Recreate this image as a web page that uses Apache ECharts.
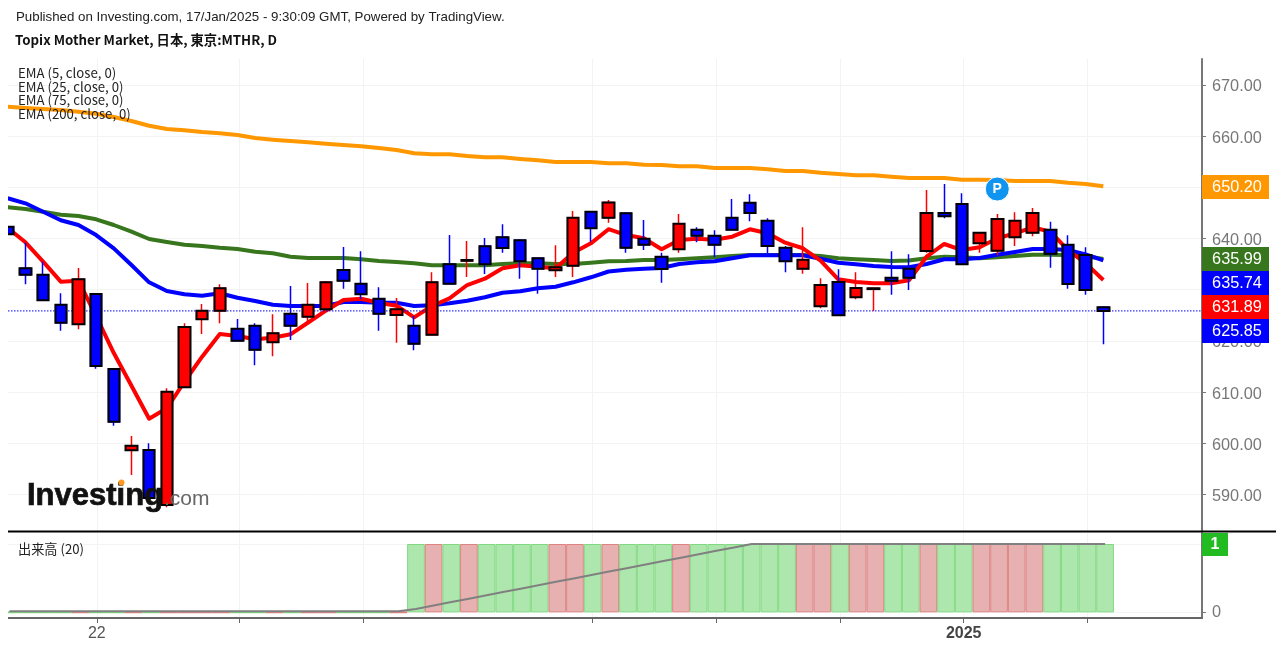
<!DOCTYPE html>
<html>
<head>
<meta charset="utf-8">
<style>html,body{margin:0;padding:0;background:#fff}#c{width:1276px;height:651px}</style>
<script src="https://cdn.jsdelivr.net/npm/echarts@6/dist/echarts.min.js"></script>
</head>
<body>
<div id="c"></div>
<script>
const opens = [642.31,634.18,632.93,627.06,623.23,629.15,614.49,598.61,598.67,587.92,610.92,624.21,625.89,622.37,622.96,619.71,625.30,624.72,626.16,633.84,631.17,628.23,625.05,622.96,621.20,634.96,635.64,638.48,640.23,639.65,636.13,633.79,634.69,645.24,644.07,644.92,639.96,636.44,637.89,641.72,640.55,644.07,647.00,643.48,638.20,634.10,626.75,631.50,628.51,630.11,632.34,634.10,637.56,644.98,646.74,639.06,637.62,640.23,641.13,641.72,638.79,636.77,626.55];
const closes = [640.82,632.93,627.92,623.54,632.03,615.08,604.20,599.51,589.29,610.06,622.70,625.89,630.27,620.03,618.27,621.47,622.96,627.06,631.44,631.75,629.09,625.30,626.16,619.44,631.44,631.17,635.80,634.96,638.14,635.54,634.10,634.37,644.07,641.99,647.03,638.20,638.79,634.04,642.89,640.55,638.79,641.72,644.98,638.53,635.54,635.86,630.91,624.99,630.33,630.27,631.75,632.34,644.98,644.34,634.96,641.13,643.81,643.48,644.98,637.03,631.11,629.94,625.83];
const lows = [640.82,631.05,627.92,621.98,622.25,614.55,603.42,593.78,588.90,587.50,610.90,621.34,623.43,619.91,615.22,616.98,620.16,623.43,626.16,630.19,628.12,621.98,619.64,618.15,621.20,631.17,632.48,633.06,637.23,632.14,629.21,632.48,632.48,639.37,643.09,637.23,637.75,631.36,637.23,639.26,636.33,641.72,643.36,637.11,633.39,633.12,626.36,624.99,628.12,625.83,629.02,629.94,637.23,643.95,634.96,637.23,636.72,638.53,640.43,634.29,630.19,629.02,619.32];
const highs = [642.31,639.18,635.47,629.29,634.23,629.29,614.63,601.40,599.98,610.72,623.43,627.20,631.05,624.27,623.43,625.18,630.72,631.30,631.69,638.34,637.50,630.46,628.37,624.85,633.39,640.68,639.51,640.10,642.77,639.84,636.29,638.67,645.37,645.37,647.52,645.12,643.62,637.23,644.79,642.19,641.60,647.72,648.64,643.95,638.53,642.19,632.22,633.98,633.39,630.40,637.50,636.91,649.48,650.65,648.83,641.13,644.79,645.12,645.96,643.28,640.62,638.28,626.55];
const ema5 = [642.05,639.26,635.47,631.56,631.75,624.85,617.62,611.23,604.79,606.82,612.01,616.90,621.34,620.95,620.30,620.61,621.28,623.58,625.89,627.98,628.23,627.45,626.87,624.60,626.81,628.31,630.91,632.14,634.18,634.76,634.49,634.18,637.23,639.06,641.82,640.68,640.04,637.89,639.71,639.96,639.77,640.35,641.80,641.02,639.18,638.09,635.66,632.03,631.50,631.25,631.25,631.83,636.44,638.93,637.75,638.28,640.04,641.02,642.19,641.33,637.75,635.15,631.89];
const ema25 = [647.86,646.88,645.24,643.56,642.64,640.68,638.08,634.82,631.44,629.74,629.10,628.82,629.29,628.43,627.79,627.06,626.81,626.81,626.81,627.59,627.59,627.45,627.45,626.81,626.95,627.34,627.85,628.51,629.41,629.68,630.27,630.58,631.44,632.42,633.55,633.90,634.10,634.23,635.02,635.35,635.54,636.13,636.72,636.72,636.72,636.72,636.05,635.27,634.96,634.63,634.43,634.39,635.02,635.94,635.94,636.19,636.83,637.36,637.95,637.95,637.75,636.91,635.74];
const ema75 = [646.10,645.77,645.24,644.65,644.40,643.75,642.64,641.33,639.90,639.32,638.79,638.53,638.20,637.95,637.42,637.11,636.44,636.19,636.19,636.19,635.93,635.60,635.41,635.15,634.76,634.76,634.76,634.76,635.02,635.15,635.15,635.02,635.02,635.27,635.56,635.60,635.80,635.80,635.93,636.13,636.33,636.58,636.77,636.77,636.77,636.77,636.58,636.13,635.93,635.80,635.60,635.70,636.13,636.44,636.33,636.13,636.33,636.58,636.83,636.83,636.77,636.58,635.99];
const ema200 = [665.76,665.50,665.31,665.11,664.78,664.39,663.74,662.96,662.04,661.40,661.15,660.81,660.56,660.23,659.64,659.31,659.05,658.80,658.53,658.27,658.02,657.69,657.30,656.65,656.45,656.45,656.12,655.87,655.87,655.54,655.28,654.95,654.95,654.95,654.70,654.70,654.42,654.36,654.11,654.11,653.78,653.78,653.78,653.52,653.19,653.19,652.86,652.61,652.35,652.35,652.08,651.82,651.82,651.82,651.49,651.49,651.43,651.24,651.24,651.24,650.90,650.65,650.20];
const volumes = [0,0,0,0,0,0,0,0,0,0,0,0,0,0,0,0,0,0,0,0,0,0,0,1,1,1,1,1,1,1,1,1,1,1,1,1,1,1,1,1,1,1,1,1,1,1,1,1,1,1,1,1,1,1,1,1,1,1,1,1,1,1,1];
const volumeMA = [0.015,0.015,0.015,0.015,0.015,0.015,0.015,0.015,0.015,0.015,0.015,0.015,0.015,0.015,0.015,0.015,0.015,0.015,0.015,0.015,0.015,0.015,0.015,0.05,0.1,0.15,0.2,0.25,0.3,0.35,0.4,0.45,0.5,0.55,0.6,0.65,0.7,0.75,0.8,0.85,0.9,0.95,1,1,1,1,1,1,1,1,1,1,1,1,1,1,1,1,1,1,1,1,1];
const priceTicks = [590,600,610,620,630,640,650,660,670];
const priceLabels = [590,600,610,620,640,650,660,670];
const dateTicks = [4.94,13,20,33,40,47,54,61];
const dateLabels = {5:'22',54:'{b|2025}'};
const lastPrice = 625.85;
const pivotIndex = 56, pivotPrice = 649.67;
const emaNames = ['EMA (5, close, 0)','EMA (25, close, 0)','EMA (75, close, 0)','EMA (200, close, 0)'];
const tagTexts = ['650.20','635.99','635.74','631.89','625.85'];
const tagColors = ['#ff9800','#38761d','#0000ff','#ff0000','#0000ff'];

const BLUE='#0000ff', RED='#ff0000', SANS='"Liberation Sans",Arial,sans-serif', CJK='"Noto Sans CJK JP","Noto Sans",sans-serif';
const xr = {min:0.013,max:67.585}, lag=0.1;
const pts = a => a.map((v,i)=>[i,v]);
const lineS = (name,data,color,z) => ({name,type:'line',data:pts(data),xAxisIndex:0,yAxisIndex:0,showSymbol:false,symbol:'none',
  lineStyle:{color,width:4,join:'round'},z,silent:true});
const wicks = opens.map((o,i)=>[i,o,closes[i],lows[i],highs[i]]);
const bodies = opens.map((o,i)=>[i,o,closes[i],Math.min(o,closes[i]),Math.max(o,closes[i])]);
const txt = (text,x,y,font,fill,extra) => ({type:'text',x,y,z:100,silent:true,style:Object.assign({text,font,fill,verticalAlign:'middle',align:'left'},extra||{})});

const graphic = [
  {type:'rect',z:40,silent:true,shape:{x:0,y:59,width:8,height:560},style:{fill:'#fff'}},
  {type:'line',z:50,silent:true,shape:{x1:8,y1:531.5,x2:1276,y2:531.5},style:{stroke:'#000',lineWidth:2}},
  txt('Published on Investing.com, 17/Jan/2025 - 9:30:09 GMT, Powered by TradingView.',16,17.5,'13.3px '+SANS,'#222'),
  txt('Topix Mother Market, 日本, 東京:MTHR, D',15,40,'bold 13.3px '+CJK,'#111'),
  txt('出来高 (20)',18,549,'13.2px '+CJK,'#222'),
  txt('Investing',27,496,'bold 31px '+SANS,'#111',{stroke:'#111',lineWidth:0.7}),
  txt('.com',164,499,'21px '+SANS,'#666'),
  {type:'circle',z:101,silent:true,shape:{cx:121.5,cy:482.5,r:3},style:{fill:'#ff9a1f'}},
  {type:'rect',z:60,silent:true,shape:{x:1202,y:533,width:26,height:23},style:{fill:'#22bb22'}},
  txt('1',1215,544.5,'bold 16px '+SANS,'#fff',{align:'center'})
];
emaNames.forEach((n,i)=>graphic.push(txt(n,18,[73,86.5,100,114][i],'13.2px '+CJK,'#222')));
tagTexts.forEach((t,i)=>{
  const top=[175,247,271,295,319][i];
  graphic.push({type:'rect',z:60,silent:true,shape:{x:1202,y:top,width:67,height:24},style:{fill:tagColors[i]}});
  graphic.push(txt(t,1237,top+13,'16.3px '+SANS,'#fff',{align:'center'}));
});

const option = {
  animation:false,
  backgroundColor:'#fff',
  grid:[
    {left:8,width:1194,top:59,height:472,containLabel:false},
    {left:8,width:1194,top:533,height:85,containLabel:false}
  ],
  xAxis:[
    {type:'value',gridIndex:0,min:xr.min,max:xr.max,axisLine:{show:false,onZero:false},
     axisTick:{show:false,customValues:dateTicks.map(t=>t+lag)},axisLabel:{show:false,customValues:dateTicks.map(t=>t+lag)},
     splitLine:{show:true,lineStyle:{color:'#f3f3f3',width:1}}},
    {type:'value',gridIndex:1,min:xr.min-lag,max:xr.max-lag,
     axisLine:{show:true,onZero:false,lineStyle:{color:'#666',width:2}},
     axisTick:{show:true,length:5,customValues:dateTicks,lineStyle:{color:'#666',width:1}},
     axisLabel:{show:true,customValues:[4.94,54],margin:8,color:'#555',fontSize:16,fontFamily:SANS,
       formatter:v=>dateLabels[Math.round(v)]||'',rich:{b:{fontWeight:'bold',fontSize:16,color:'#444',fontFamily:SANS}}},
     splitLine:{show:true,lineStyle:{color:'#f3f3f3',width:1}}}
  ],
  yAxis:[
    {type:'value',gridIndex:0,position:'right',min:582.84,max:675.08,
     axisLine:{show:true,onZero:false,lineStyle:{color:'#777',width:2}},
     axisTick:{show:true,length:4,customValues:priceTicks,lineStyle:{color:'#777',width:1}},
     axisLabel:{show:true,customValues:priceLabels,margin:10,color:'#777',fontSize:16.3,fontFamily:SANS,
       formatter:v=>'{a|'+v.toFixed(2)+'}',rich:{a:{color:'#777',fontSize:16.3,fontFamily:SANS,padding:[4,0,0,0]}}},
     splitLine:{show:true,lineStyle:{color:'#f3f3f3',width:1}}},
    {type:'value',gridIndex:1,position:'right',min:-0.083,max:1.161,
     axisLine:{show:true,onZero:false,lineStyle:{color:'#777',width:2}},
     axisTick:{show:true,length:4,customValues:[0,1],lineStyle:{color:'#777',width:1}},
     axisLabel:{show:true,customValues:[0],margin:10,color:'#777',fontSize:16.3,fontFamily:SANS},
     splitLine:{show:true,lineStyle:{color:'#f3f3f3',width:1}}}
  ],
  series:[
    lineS('EMA (200, close, 0)',ema200,'#ff9800',2),
    lineS('EMA (75, close, 0)',ema75,'#38761d',3),
    lineS('EMA (25, close, 0)',ema25,BLUE,4),
    lineS('EMA (5, close, 0)',ema5,RED,5),
    {name:'last price',type:'line',xAxisIndex:0,yAxisIndex:0,data:[[xr.min,lastPrice],[xr.max,lastPrice]],showSymbol:false,symbol:'none',z:5,silent:true,
     lineStyle:{color:'#0000ff',type:[1.5,1.5],width:1}},
    {name:'wick',type:'candlestick',data:wicks,xAxisIndex:0,yAxisIndex:0,barWidth:11,z:6,silent:true,
     encode:{x:0,y:[1,2,3,4]},
     itemStyle:{color:RED,color0:BLUE,borderColor:RED,borderColor0:BLUE,borderWidth:1.5},
     markPoint:{silent:true,z:20,symbol:'circle',symbolSize:24,
       itemStyle:{color:'#0f94f0',borderColor:'#fff',borderWidth:1},
       label:{show:true,formatter:'P',color:'#fff',fontWeight:'bold',fontSize:14,fontFamily:SANS},
       data:[{coord:[pivotIndex,pivotPrice],value:'P'}]}},
    {name:'body',type:'candlestick',data:bodies,xAxisIndex:0,yAxisIndex:0,barWidth:12,z:7,silent:true,
     encode:{x:0,y:[1,2,3,4]},
     itemStyle:{color:RED,color0:BLUE,borderColor:'#000',borderColor0:'#000',borderWidth:2}},
    {name:'volume',type:'bar',xAxisIndex:1,yAxisIndex:1,barWidth:17.67,z:2,silent:true,
     data:volumes.map((v,i)=>{
       const up=closes[i]>=opens[i];
       return {value:[i,v],itemStyle:{color:up?'#e7b1b1':'#aee7ae',borderColor:up?'#de8282':'#80d980',borderWidth:v>0?1:2}};
     })},
    {name:'出来高 MA',type:'line',xAxisIndex:1,yAxisIndex:1,data:pts(volumeMA),showSymbol:false,symbol:'none',z:3,silent:true,
     lineStyle:{color:'#808080',width:2}}
  ]
};
option.graphic = graphic;
const chart = echarts.init(document.getElementById('c'),null,{renderer:'canvas',width:1276,height:651});
chart.setOption(option);
</script>
</body>
</html>
